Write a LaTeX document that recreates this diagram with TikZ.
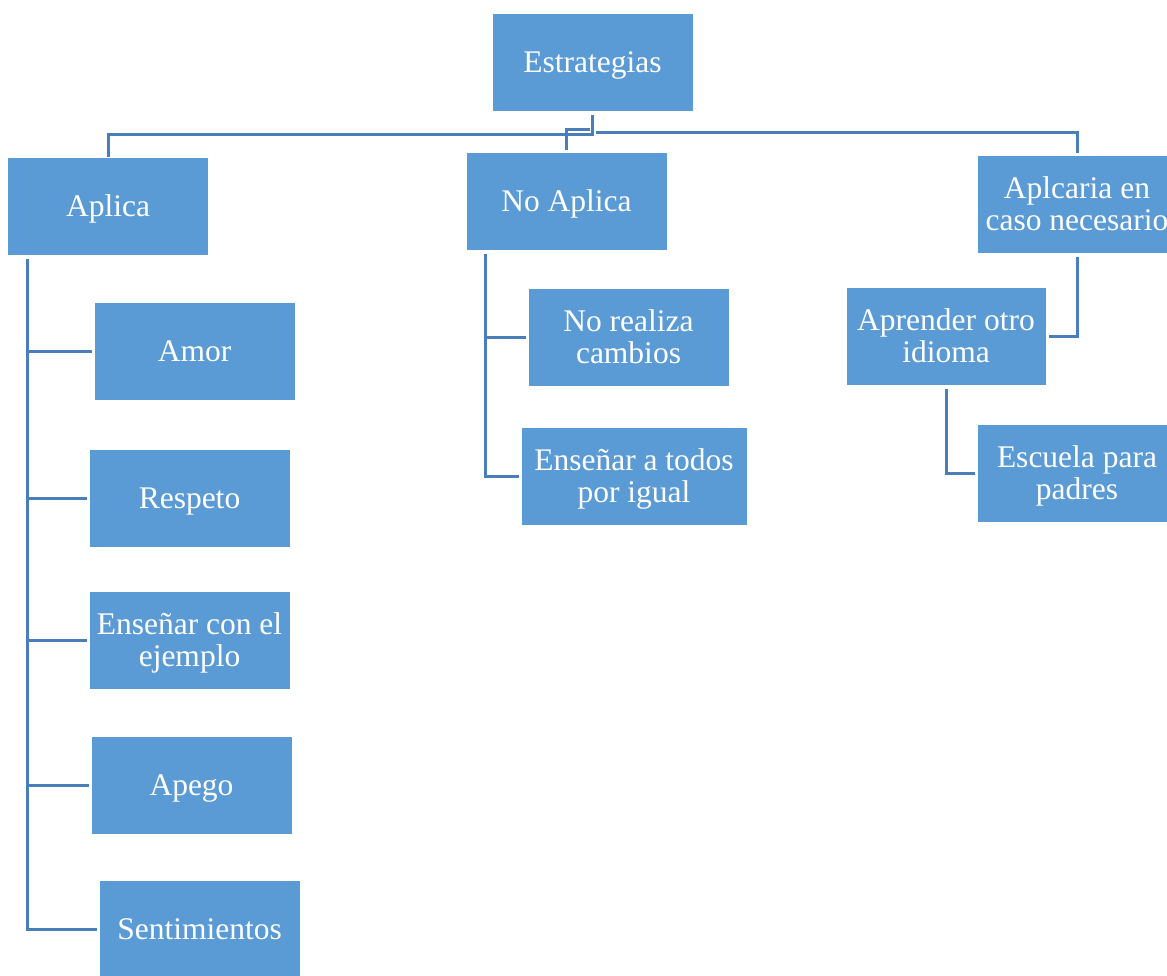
\documentclass[tikz,border=0pt]{standalone}
\usepackage{fontspec}
\setmainfont{Liberation Serif}
\definecolor{caja}{HTML}{5B9BD5}
\definecolor{linea}{HTML}{4A7EBB}
\tikzset{
  caja/.style={rectangle, fill=caja, draw=white, line width=1pt, text=white,
    align=center, inner sep=0pt, minimum width=201pt, minimum height=98pt,
    font=\fontsize{31.5}{32}\selectfont,
    execute at begin node={\rule{0pt}{29pt}},
    execute at end node={\rule[-9pt]{0pt}{9pt}}},
  doble/.style={caja, text depth=1pt},
  rama/.style={draw=linea, line width=3pt, shorten <=3pt, shorten >=2pt}
}
\begin{document}
\begin{tikzpicture}[x=1pt,y=-1pt]
			\useasboundingbox [fill=white] (0,0) rectangle (1167,975);
			% Cajas
			\node [caja] (est) at (592.5,62) {Estrategias};
			\node [caja] (aplica) at (108,206.5) {Aplica};
			\node [caja] (noaplica) at (566.5,201.5) {No Aplica};
			\node [doble, minimum width=200pt] (encaso) at (1077,204.5) {Aplcaria en\\caso necesario};
			\node [caja] (amor) at (194.5,351) {Amor};
			\node [caja] (respeto) at (189.5,498) {Respeto};
			\node [doble] (ejemplo) at (189.5,640) {Enseñar con el\\ejemplo};
			\node [caja] (apego) at (191.5,785) {Apego};
			\node [caja] (sent) at (199.5,929) {Sentimientos};
			\node [doble] (realiza) at (628.5,337) {No realiza\\cambios};
			\node [doble, minimum width=226pt] (todos) at (634,476) {Enseñar a todos\\por igual};
			\node [doble, minimum width=200pt] (idioma) at (946,336) {Aprender otro\\idioma};
			\node [doble, minimum width=200pt] (escuela) at (1077,473) {Escuela para\\padres};
			% Verbindungen oben
			\draw [rama, shorten >=0pt] (est.south) -- ++(0,23) -| (aplica.north);
			\draw [rama] ([yshift=-18pt]est.south) -| (noaplica.north);
			\draw [rama] ([yshift=-21pt]est.south) -| (encaso.north);
			% Aplica
			\coordinate (tronco1) at ([xshift=-81pt]aplica.south);
			\foreach \n in {amor,respeto,ejemplo,apego,sent}
				\draw [rama] (tronco1) |- (\n.west);
			% No Aplica
			\coordinate (tronco2) at ([xshift=-81.5pt]noaplica.south);
			\foreach \n in {realiza,todos}
				\draw [rama] (tronco2) |- (\n.west);
			% En caso necesario
			\draw [rama] (encaso.south) |- (idioma.east);
			\draw [rama] (idioma.south) |- (escuela.west);
		\end{tikzpicture}
\end{document}
